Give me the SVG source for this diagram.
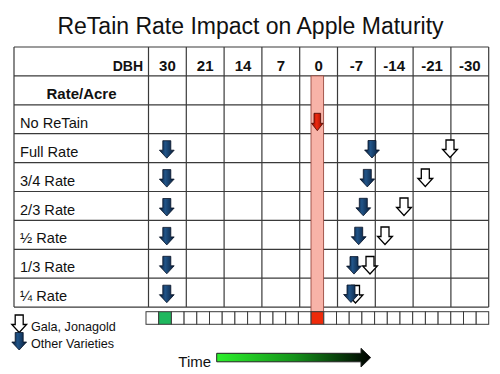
<svg xmlns="http://www.w3.org/2000/svg" xmlns:xlink="http://www.w3.org/1999/xlink" width="500" height="374" viewBox="0 0 500 374">
<style>
  text { font-family: "Liberation Sans", Arial, sans-serif; fill: #111; }
  .title { font-size: 23px; text-anchor: middle; }
  .hdr { font-size: 15px; font-weight: bold; text-anchor: middle; }
  .lbl { font-size: 14.6px; }
  .leg { font-size: 12.6px; }
  .grid line { stroke: #3a3a3a; stroke-width: 1.2; }
  .cell { fill: #fff; stroke: #3a3a3a; stroke-width: 1; }
  .wa { fill: #fff; stroke: #000; stroke-width: 1.3; }
  .ba { fill: url(#blueG); stroke: #061226; stroke-width: 0.8; }
</style>
<defs>
  <linearGradient id="blueG" x1="0" y1="0" x2="1" y2="0">
    <stop offset="0" stop-color="#061830"/>
    <stop offset="0.4" stop-color="#215488"/>
    <stop offset="1" stop-color="#071b36"/>
  </linearGradient>
  <linearGradient id="redG" x1="0" y1="0" x2="1" y2="0">
    <stop offset="0" stop-color="#8e0a00"/>
    <stop offset="0.45" stop-color="#ee2a10"/>
    <stop offset="1" stop-color="#8e0a00"/>
  </linearGradient>
  <linearGradient id="timeG" gradientUnits="userSpaceOnUse" x1="217" y1="0" x2="371" y2="0">
    <stop offset="0" stop-color="#2cf02c"/>
    <stop offset="0.5" stop-color="#14931a"/>
    <stop offset="1" stop-color="#000"/>
  </linearGradient>
  <path id="arr" d="M-4,0 H4 V9.5 H7.4 L0,17.5 L-7.4,9.5 H-4 Z"/>
</defs>

<g id="title">
  <text class="title" x="250.5" y="34.3">ReTain Rate Impact on Apple Maturity</text>
</g>

<g id="table">
  <rect x="14" y="47" width="474.7" height="260.1" fill="#fff"/>
  <g class="grid">
    <line x1="14" y1="47" x2="488.7" y2="47"/>
    <line x1="14" y1="75.9" x2="488.7" y2="75.9"/>
    <line x1="14" y1="104.8" x2="488.7" y2="104.8"/>
    <line x1="14" y1="133.7" x2="488.7" y2="133.7"/>
    <line x1="14" y1="162.6" x2="488.7" y2="162.6"/>
    <line x1="14" y1="191.5" x2="488.7" y2="191.5"/>
    <line x1="14" y1="220.4" x2="488.7" y2="220.4"/>
    <line x1="14" y1="249.3" x2="488.7" y2="249.3"/>
    <line x1="14" y1="278.2" x2="488.7" y2="278.2"/>
    <line x1="14" y1="307.1" x2="488.7" y2="307.1"/>
    <line x1="14" y1="47" x2="14" y2="307.1"/>
    <line x1="148.5" y1="47" x2="148.5" y2="307.1"/>
    <line x1="186.3" y1="47" x2="186.3" y2="307.1"/>
    <line x1="224.1" y1="47" x2="224.1" y2="307.1"/>
    <line x1="261.9" y1="47" x2="261.9" y2="307.1"/>
    <line x1="299.7" y1="47" x2="299.7" y2="307.1"/>
    <line x1="337.5" y1="47" x2="337.5" y2="307.1"/>
    <line x1="375.3" y1="47" x2="375.3" y2="307.1"/>
    <line x1="413.1" y1="47" x2="413.1" y2="307.1"/>
    <line x1="450.9" y1="47" x2="450.9" y2="307.1"/>
    <line x1="488.7" y1="47" x2="488.7" y2="307.1"/>
  </g>
  <g id="header">
    <text class="hdr" x="143" y="70.5" style="text-anchor:end;font-size:14px">DBH</text>
    <text class="hdr" x="167.4" y="70.5">30</text>
    <text class="hdr" x="205.2" y="70.5">21</text>
    <text class="hdr" x="243" y="70.5">14</text>
    <text class="hdr" x="280.8" y="70.5">7</text>
    <text class="hdr" x="318.6" y="70.5">0</text>
    <text class="hdr" x="356.4" y="70.5">-7</text>
    <text class="hdr" x="394.2" y="70.5">-14</text>
    <text class="hdr" x="432" y="70.5">-21</text>
    <text class="hdr" x="469.8" y="70.5">-30</text>
  </g>
  <g id="rows">
    <text class="hdr" x="81.5" y="99">Rate/Acre</text>
    <text class="lbl" x="20" y="127.8">No ReTain</text>
    <text class="lbl" x="20" y="156.7">Full Rate</text>
    <text class="lbl" x="20" y="185.6">3/4 Rate</text>
    <text class="lbl" x="20" y="214.5">2/3 Rate</text>
    <text class="lbl" x="20" y="243.4">½ Rate</text>
    <text class="lbl" x="20" y="272.3">1/3 Rate</text>
    <text class="lbl" x="20" y="301.2">¼ Rate</text>
  </g>
</g>

<g id="harvest-bar">
  <rect x="311" y="75.9" width="12.6" height="235.8" fill="#f8b3a8" stroke="#9a4a40" stroke-width="0.9"/>
</g>

<g id="strip">
  <rect class="cell" x="146" y="311.7" width="12.7" height="12.6"/>
  <rect class="cell" x="158.7" y="311.7" width="12.7" height="12.6" style="fill:#1fb85e"/>
  <rect class="cell" x="171.4" y="311.7" width="12.7" height="12.6"/>
  <rect class="cell" x="184.1" y="311.7" width="12.7" height="12.6"/>
  <rect class="cell" x="196.8" y="311.7" width="12.7" height="12.6"/>
  <rect class="cell" x="209.5" y="311.7" width="12.7" height="12.6"/>
  <rect class="cell" x="222.2" y="311.7" width="12.7" height="12.6"/>
  <rect class="cell" x="234.9" y="311.7" width="12.7" height="12.6"/>
  <rect class="cell" x="247.6" y="311.7" width="12.7" height="12.6"/>
  <rect class="cell" x="260.3" y="311.7" width="12.7" height="12.6"/>
  <rect class="cell" x="273" y="311.7" width="12.7" height="12.6"/>
  <rect class="cell" x="285.7" y="311.7" width="12.7" height="12.6"/>
  <rect class="cell" x="298.4" y="311.7" width="12.7" height="12.6"/>
  <rect class="cell" x="311.1" y="311.7" width="12.7" height="12.6" style="fill:#ee2a0a"/>
  <rect class="cell" x="323.8" y="311.7" width="12.7" height="12.6"/>
  <rect class="cell" x="336.5" y="311.7" width="12.7" height="12.6"/>
  <rect class="cell" x="349.2" y="311.7" width="12.7" height="12.6"/>
  <rect class="cell" x="361.9" y="311.7" width="12.7" height="12.6"/>
  <rect class="cell" x="374.6" y="311.7" width="12.7" height="12.6"/>
  <rect class="cell" x="387.3" y="311.7" width="12.7" height="12.6"/>
  <rect class="cell" x="400" y="311.7" width="12.7" height="12.6"/>
  <rect class="cell" x="412.7" y="311.7" width="12.7" height="12.6"/>
  <rect class="cell" x="425.4" y="311.7" width="12.7" height="12.6"/>
  <rect class="cell" x="438.1" y="311.7" width="12.7" height="12.6"/>
  <rect class="cell" x="450.8" y="311.7" width="12.7" height="12.6"/>
  <rect class="cell" x="463.5" y="311.7" width="12.7" height="12.6"/>
  <rect class="cell" x="476.2" y="311.7" width="12.5" height="12.6"/>
</g>

<g id="arrows">
  <path d="M314,113.3 H320.6 V123.3 H323.1 L317.3,130.7 L311.5,123.3 H314 Z" fill="url(#redG)" stroke="#4a0800" stroke-width="0.8"/>
  <use href="#arr" class="ba" x="166.8" y="140.7"/>
  <use href="#arr" class="ba" x="166.8" y="169.6"/>
  <use href="#arr" class="ba" x="166.8" y="198.5"/>
  <use href="#arr" class="ba" x="166.8" y="227.4"/>
  <use href="#arr" class="ba" x="166.8" y="256.3"/>
  <use href="#arr" class="ba" x="166.8" y="285.2"/>
  <use href="#arr" class="ba" x="372" y="140.5"/>
  <use href="#arr" class="wa" x="450" y="140"/>
  <use href="#arr" class="ba" x="367.3" y="169.4"/>
  <use href="#arr" class="wa" x="425.3" y="169"/>
  <use href="#arr" class="ba" x="363.3" y="198.3"/>
  <use href="#arr" class="wa" x="404" y="198"/>
  <use href="#arr" class="ba" x="358.7" y="227.2"/>
  <use href="#arr" class="wa" x="385" y="227"/>
  <use href="#arr" class="ba" x="354" y="256.6"/>
  <use href="#arr" class="wa" x="370" y="256.5"/>
  <use href="#arr" class="wa" x="355.5" y="285.5"/>
  <use href="#arr" class="ba" x="351" y="285"/>
</g>

<g id="legend">
  <use href="#arr" class="wa" x="19.2" y="315"/>
  <text class="leg" x="31" y="330.6">Gala, Jonagold</text>
  <use href="#arr" class="ba" x="19.2" y="332.5"/>
  <text class="leg" x="31" y="347.5">Other Varieties</text>
</g>

<g id="time">
  <text x="178.3" y="366.7" style="font-size:15px">Time</text>
  <path d="M216.7,353.3 H361 V348.3 L370.7,357.6 L361,367 V361.8 H216.7 Z" fill="url(#timeG)" stroke="#222" stroke-width="1"/>
</g>
</svg>
